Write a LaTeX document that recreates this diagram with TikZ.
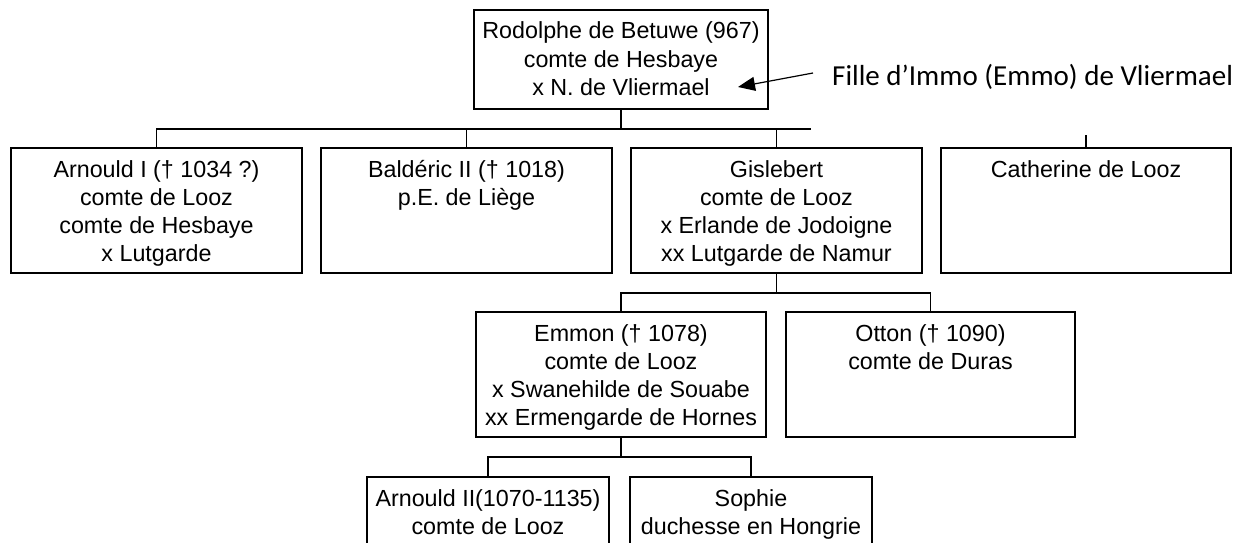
\documentclass[tikz,border=0pt]{standalone}
\usepackage{fontspec}
\setmainfont{Liberation Sans}
\newfontfamily\notefont{Carlito}
\usetikzlibrary{arrows.meta}

\newcommand\boxtext[3]{\begin{minipage}[c][#2][t]{#1}\centering\rule{0pt}{29pt}#3\end{minipage}}

\tikzset{
  personbox/.style={draw, line width=1.2pt, inner sep=0pt, outer sep=0pt,
    font=\fontsize{23.3}{28.3}\selectfont},
  link/.style={line width=1.2pt},
  note/.style={inner sep=0pt, font=\notefont\fontsize{29}{34}\selectfont, anchor=base west},
}

\begin{document}
\begin{tikzpicture}[x=1pt,y=-1pt]
\useasboundingbox (0,0) rectangle (1240,543);
\clip (0,0) rectangle (1240,543);

% boxes
\node[personbox] (root) at (621,59.5) {\boxtext{294pt}{99pt}{Rodolphe de Betuwe (967)\\comte de Hesbaye\\x N. de Vliermael}};
\node[personbox] (arn1) at (156.5,210.5) {\boxtext{291pt}{125pt}{Arnould I († 1034 ?)\\comte de Looz\\comte de Hesbaye\\x Lutgarde}};
\node[personbox] (bald) at (466.5,210.5) {\boxtext{291pt}{125pt}{Baldéric II († 1018)\\p.E. de Liège}};
\node[personbox] (gisl) at (776.5,210.5) {\boxtext{291pt}{125pt}{Gislebert\\comte de Looz\\x Erlande de Jodoigne\\xx Lutgarde de Namur}};
\node[personbox] (cath) at (1086,210.5) {\boxtext{290pt}{125pt}{Catherine de Looz}};
\node[personbox] (emmon) at (621,374.5) {\boxtext{290pt}{125pt}{Emmon († 1078)\\comte de Looz\\x Swanehilde de Souabe\\xx Ermengarde de Hornes}};
\node[personbox] (otton) at (930.5,374.5) {\boxtext{289pt}{125pt}{Otton († 1090)\\comte de Duras}};
\node[personbox] (arn2) at (488,539.5) {\boxtext{242pt}{125pt}{Arnould II(1070-1135)\\comte de Looz}};
\node[personbox] (sophie) at (751,539.5) {\boxtext{242pt}{125pt}{Sophie\\duchesse en Hongrie}};

% note and arrow
\node[note] (fille) at (832,85) {Fille d’Immo (Emmo) de Vliermael};
\coordinate (arrowstart) at (813,73);
\coordinate (arrowtip) at (738,87);
\draw[link, -{Triangle[length=17pt,width=14pt]}] (arrowstart) -- (arrowtip);

% first generation
\coordinate (bar1) at (621,129);
\coordinate (bar1end) at (811,129);
\draw[link] (root.south) -- (bar1);
\draw[link] (arn1.north) |- (bar1end);
\draw[link] (bald.north) -- (bald.north |- bar1);
\draw[link] (gisl.north) -- (gisl.north |- bar1);
\coordinate (cathstub) at (1086,135);
\draw[link] (cath.north) -- (cathstub);

% second generation
\coordinate (bar2) at (776.5,293);
\draw[link] (gisl.south) -- (bar2);
\draw[link] (emmon.north) |- (bar2);
\draw[link] (otton.north) |- (bar2);

% third generation
\coordinate (bar3) at (621,457);
\draw[link] (emmon.south) -- (bar3);
\draw[link] (arn2.north) |- (bar3);
\draw[link] (sophie.north) |- (bar3);
\end{tikzpicture}
\end{document}
